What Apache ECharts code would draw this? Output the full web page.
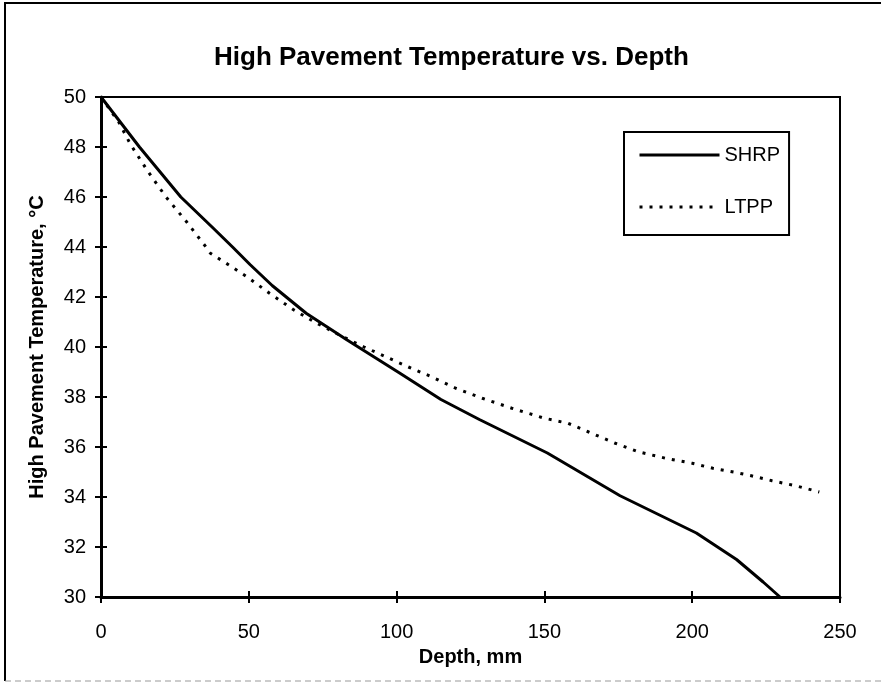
<!DOCTYPE html>
<html>
<head>
<meta charset="utf-8">
<script src="https://cdn.jsdelivr.net/npm/echarts@6/dist/echarts.min.js"></script>
<style>
html,body{margin:0;padding:0;background:#fff;}
#c{width:881px;height:684px;}
</style>
</head>
<body>
<div id="c"></div>
<script>
const chartTitle = 'High Pavement Temperature vs. Depth';
const xAxisName = 'Depth, mm';
const yAxisName = 'High Pavement Temperature, °C';
const seriesNames = ['SHRP', 'LTPP'];
const xTicks = [0, 50, 100, 150, 200, 250];
const yTicks = [30, 32, 34, 36, 38, 40, 42, 44, 46, 48, 50];

const shrpDepth = [0, 13, 27, 38, 44.5, 50.4, 58, 69.4, 83, 101, 115, 128, 151, 175.6, 201.4, 215, 224, 229.7];
const shrpTemp  = [50, 48, 46, 44.75, 44.0, 43.3, 42.45, 41.35, 40.3, 38.96, 37.9, 37.1, 35.76, 34.05, 32.56, 31.5, 30.6, 30.0];

const ltppDepth = [0, 6, 10, 16, 22, 29, 35.5, 37, 43, 49.5, 57, 65, 73, 82, 89, 96.5, 104, 112, 120, 129, 139, 150, 158, 165, 174, 182, 191, 200, 207, 214, 220, 227, 235, 243];
const ltppTemp  = [50, 49, 48.1, 47, 46, 45, 44, 43.75, 43.3, 42.8, 42.15, 41.5, 40.95, 40.4, 40.0, 39.6, 39.2, 38.8, 38.35, 37.95, 37.55, 37.15, 36.95, 36.6, 36.15, 35.8, 35.55, 35.35, 35.15, 35.0, 34.85, 34.65, 34.45, 34.2];

const font = 'Liberation Sans, Arial, sans-serif';
const xMin = xTicks[0], xMax = xTicks[xTicks.length - 1], xInt = xTicks[1] - xTicks[0];
const yMin = yTicks[0], yMax = yTicks[yTicks.length - 1], yInt = yTicks[1] - yTicks[0];

const chart = echarts.init(document.getElementById('c'), null, {renderer: 'canvas'});
const baseX = {type: 'value', min: xMin, max: xMax, interval: xInt, splitLine: {show: false}};
const baseY = {type: 'value', min: yMin, max: yMax, interval: yInt, splitLine: {show: false}};

chart.setOption({
  backgroundColor: '#fff',
  animation: false,
  title: {
    text: chartTitle,
    left: 209, top: 40,
    textStyle: {fontFamily: font, fontSize: 26, fontWeight: 'bold', color: '#000'}
  },
  legend: {
    orient: 'vertical',
    left: 624, top: 132,
    data: seriesNames,
    itemWidth: 80, itemHeight: 20, itemGap: 32, itemTextGap: 5,
    padding: [13, 9, 18, 14],
    borderColor: '#000', borderWidth: 2,
    itemStyle: {opacity: 0, borderWidth: 0},
    lineStyle: {width: 3},
    textStyle: {fontFamily: font, fontSize: 20, color: '#000'}
  },
  grid: {
    left: 101, right: 41, top: 97, bottom: 87,
    show: true, borderColor: '#000', borderWidth: 2
  },
  xAxis: [
    Object.assign({}, baseX, {
      position: 'bottom',
      name: xAxisName, nameLocation: 'middle', nameGap: 50,
      nameTextStyle: {fontFamily: font, fontSize: 20, fontWeight: 'bold', color: '#000'},
      axisLine: {show: true, lineStyle: {color: '#000', width: 3}},
      axisTick: {show: true, inside: false, length: 6, lineStyle: {color: '#000', width: 2}},
      axisLabel: {margin: 25, fontFamily: font, fontSize: 20, color: '#000'}
    }),
    Object.assign({}, baseX, {
      position: 'bottom',
      axisLine: {show: false},
      axisTick: {show: true, inside: true, length: 6, lineStyle: {color: '#000', width: 2}},
      axisLabel: {show: false}
    })
  ],
  yAxis: [
    Object.assign({}, baseY, {
      position: 'left',
      name: yAxisName, nameLocation: 'middle', nameGap: 54, nameRotate: 90,
      nameTextStyle: {fontFamily: font, fontSize: 20, fontWeight: 'bold', color: '#000'},
      axisLine: {show: true, lineStyle: {color: '#000', width: 3}},
      axisTick: {show: true, inside: false, length: 6, lineStyle: {color: '#000', width: 2}},
      axisLabel: {margin: 15, fontFamily: font, fontSize: 20, color: '#000'}
    }),
    Object.assign({}, baseY, {
      position: 'left',
      axisLine: {show: false},
      axisTick: {show: true, inside: true, length: 6, lineStyle: {color: '#000', width: 2}},
      axisLabel: {show: false}
    })
  ],
  graphic: [
    {type: 'polyline', silent: true, shape: {points: [[5, 681], [5, 3], [881, 3]]}, style: {stroke: '#000', lineWidth: 2, fill: null}},
    {type: 'line', silent: true, shape: {x1: 5, y1: 681, x2: 881, y2: 681}, style: {stroke: '#999', lineWidth: 1, lineDash: [6, 4]}}
  ],
  series: [
    {
      name: seriesNames[0], type: 'line', xAxisIndex: 0, yAxisIndex: 0,
      data: shrpDepth.map((d, i) => [d, shrpTemp[i]]),
      symbol: 'none', smooth: false,
      lineStyle: {color: '#000', width: 3, type: 'solid'},
      itemStyle: {color: '#000'}
    },
    {
      name: seriesNames[1], type: 'line', xAxisIndex: 0, yAxisIndex: 0,
      data: ltppDepth.map((d, i) => [d, ltppTemp[i]]),
      symbol: 'none', smooth: false,
      lineStyle: {color: '#000', width: 3, type: [3, 7]},
      itemStyle: {color: '#000'}
    }
  ]
});
</script>
</body>
</html>
